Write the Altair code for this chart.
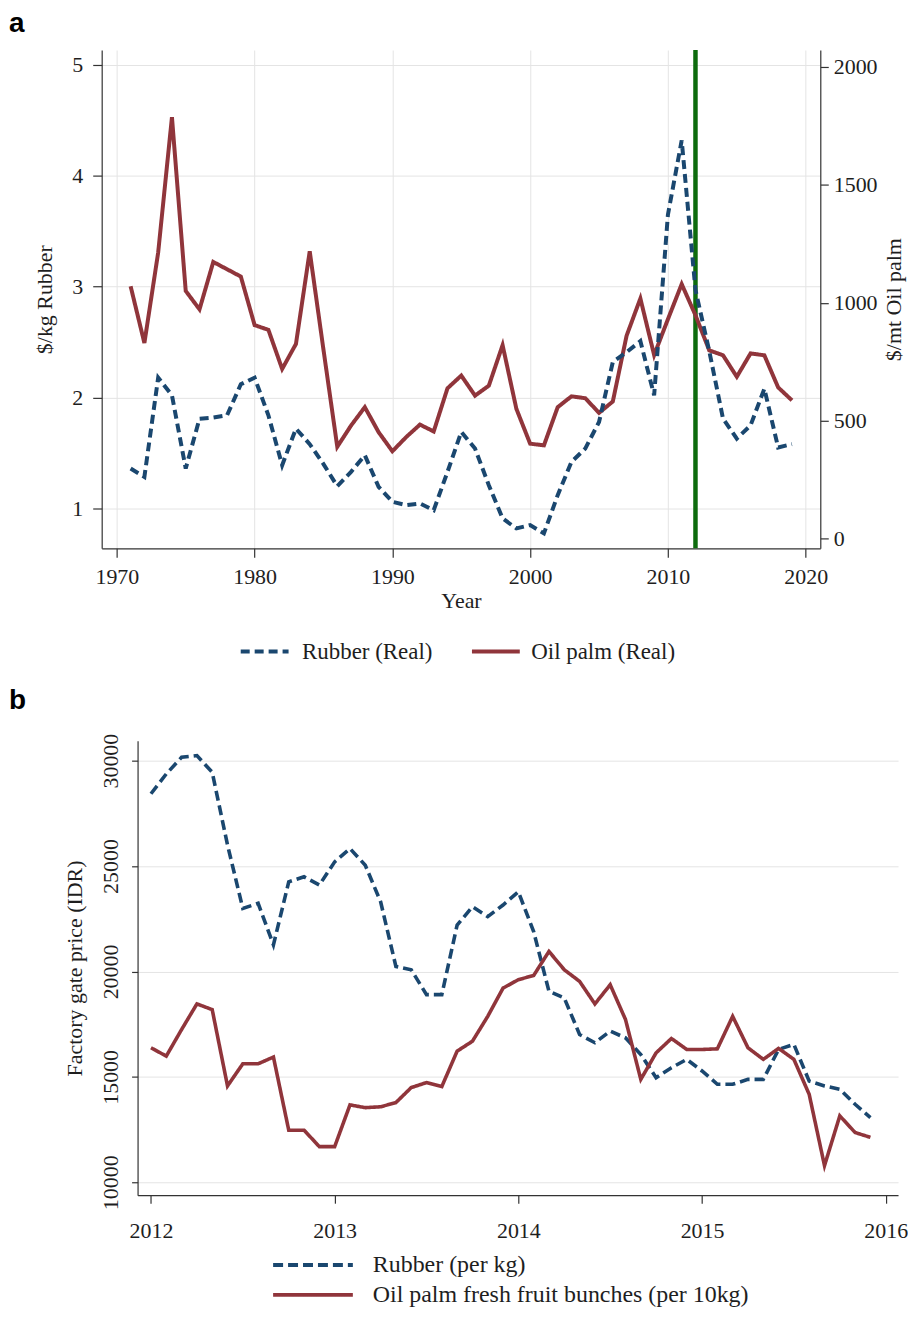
import altair as alt
import pandas as pd

# ---------------- Panel a: annual real prices, 1971-2019 ----------------
years_a = list(range(1971, 2020))
rubber_real = [1.36, 1.285, 2.18, 2.02, 1.36, 1.81, 1.82, 1.84, 2.12, 2.18,
               1.84, 1.39, 1.72, 1.58, 1.40, 1.20, 1.33, 1.48, 1.195, 1.06,
               1.03, 1.045, 0.985, 1.33, 1.69, 1.54, 1.21, 0.91, 0.82, 0.85,
               0.775, 1.12, 1.42, 1.54, 1.78, 2.32, 2.41, 2.51, 2.02, 3.65,
               4.32, 2.97, 2.42, 1.81, 1.63, 1.75, 2.08, 1.55, 1.58]
oilpalm_real = [1070, 829, 1213, 1787, 1050, 972, 1173, 1142, 1111, 905,
                885, 719, 825, 1218, 800, 389, 479, 557, 451, 370,
                430, 483, 454, 637, 691, 606, 648, 820, 550, 402,
                395, 557, 603, 595, 533, 581, 860, 1018, 778, 930,
                1079, 947, 798, 777, 686, 785, 777, 641, 586]
green_year = [2012]

xticks_a = [1970, 1980, 1990, 2000, 2010, 2020]
yticks_rubber = [1, 2, 3, 4, 5]
yticks_oil = [0, 500, 1000, 1500, 2000]

# ---------------- Panel b: monthly factory gate prices, 2012-2015 ----------------
years_b = [2012] * 12 + [2013] * 12 + [2014] * 12 + [2015] * 12
months_b = list(range(1, 13)) * 4
rubber_b = [28430, 29370, 30160, 30240, 29450, 26000, 22990, 23230, 21260, 24250, 24490, 24100,
            25200, 25830, 25040, 23310, 20240, 20080, 18900, 18900, 22200, 23070, 22600, 23150,
            23780, 21890, 19060, 18740, 17010, 16620, 17170, 16850, 16060, 14960, 15430, 15830,
            15280, 14650, 14650, 14880, 14880, 16300, 16540, 14800, 14570, 14410, 13700, 13070]
oilpalm_b = [16380, 15985, 17245, 18460, 18190, 14570, 15620, 15620, 15940, 12470, 12470, 11690,
             11690, 13670, 13540, 13580, 13780, 14490, 14730, 14540, 16220, 16690, 17870, 19210,
             19610, 19810, 20950, 20080, 19530, 18460, 19370, 17720, 14880, 16140, 16820, 16300,
             16300, 16330, 17870, 16380, 15830, 16350, 15830, 14170, 10790, 13150, 12360, 12130]

xticks_b = [2012, 2013, 2014, 2015, 2016]
yticks_b = [10000, 15000, 20000, 25000, 30000]

# ---------------- styling ----------------
SERIF = "Liberation Serif"
SANS = "Liberation Sans"
BLUE = "#1a476f"
RED = "#90353b"
GREEN = "#0d6b0d"
GRID = "#e4e4e4"
INK = "#1e1e1e"
FS = 22

AX = dict(labelFont=SERIF, labelFontSize=FS, labelColor=INK,
          titleFont=SERIF, titleFontSize=FS, titleFontWeight="normal", titleColor=INK,
          domainColor="#333333", tickColor="#333333", domainWidth=1.2, tickWidth=1.2)


def leg(fs, **kw):
    return alt.Legend(orient="none", title=None, padding=0, labelFont=SERIF, labelFontSize=fs,
                      labelColor=INK, symbolSize=256, symbolStrokeWidth=4, labelLimit=700, **kw)


# ---------------- panel a ----------------
da_r = pd.DataFrame({"year": years_a, "value": rubber_real, "sa1": "Rubber (Real)"})
da_o = pd.DataFrame({"year": years_a, "value": oilpalm_real, "sa2": "Oil palm (Real)"})
da_g = pd.DataFrame({"year": green_year})

xa = alt.X("year:Q", scale=alt.Scale(domain=[1968.9, 2021.06], nice=False, zero=False),
           axis=alt.Axis(values=xticks_a, format="d", title="Year", tickSize=9,
                         labelPadding=9, titlePadding=3, grid=True, gridColor=GRID, **AX))

rule_a = alt.Chart(da_g).mark_rule(color=GREEN, strokeWidth=4.5).encode(x=xa)

oil_a = alt.Chart(da_o).mark_line(color=RED, strokeWidth=4).encode(
    x=xa,
    y=alt.Y("value:Q", scale=alt.Scale(domain=[-42, 2072], nice=False, zero=False),
            axis=alt.Axis(orient="right", values=yticks_oil, format="d", title="$/mt Oil palm",
                          titleAngle=270, titleBaseline="top", tickSize=8, labelPadding=5,
                          titlePadding=6, grid=False, **AX)),
    strokeDash=alt.StrokeDash("sa2:N", scale=alt.Scale(domain=["Oil palm (Real)"], range=[[1, 0]]),
                              legend=leg(23, legendX=384, legendY=592, symbolType="M-3,0H3",
                                         symbolStrokeColor=RED, labelOffset=24)),
)

rub_a = alt.Chart(da_r).mark_line(strokeWidth=4, strokeDash=[9, 5]).encode(
    x=xa,
    y=alt.Y("value:Q", scale=alt.Scale(domain=[0.64, 5.135], nice=False, zero=False),
            axis=alt.Axis(orient="left", values=yticks_rubber, title="$/kg Rubber", tickSize=9,
                          labelPadding=10, titlePadding=15, grid=True, gridColor=GRID, **AX)),
    color=alt.Color("sa1:N", scale=alt.Scale(domain=["Rubber (Real)"], range=[BLUE]),
                    legend=leg(23, legendX=152, legendY=592, symbolType="M-3,0H3",
                               symbolDash=[9, 5], labelOffset=26)),
)

letter_a = alt.Chart(pd.DataFrame({"k": [0]})).mark_text(
    font=SANS, fontSize=28, fontWeight="bold", align="left", baseline="top", color="black"
).encode(x=alt.value(-93), y=alt.value(-40), text=alt.value("a"))

panel_a = alt.layer(rule_a, oil_a, rub_a, letter_a).resolve_scale(
    y="independent", color="independent", strokeDash="independent"
).properties(width=721, height=500)

# ---------------- panel b ----------------
t_b = [y + (m - 1) / 12 for y, m in zip(years_b, months_b)]
db_r = pd.DataFrame({"t": t_b, "value": rubber_b, "sb1": "Rubber (per kg)"})
db_o = pd.DataFrame({"t": t_b, "value": oilpalm_b, "sb2": "Oil palm fresh fruit bunches (per 10kg)"})

xb = alt.X("t:Q", scale=alt.Scale(domain=[2011.927, 2016.067], nice=False, zero=False),
           axis=alt.Axis(values=xticks_b, format="d", title=None, grid=False, tickSize=8,
                         labelPadding=17, **AX))
yb_scale = alt.Scale(domain=[9386, 30945], nice=False, zero=False)
yb_axis = alt.Axis(values=yticks_b, format="d", title="Factory gate price (IDR)", labelAngle=270,
                   grid=True, gridColor=GRID, tickSize=6, labelPadding=9, titlePadding=13, **AX)

rub_b = alt.Chart(db_r).mark_line(strokeWidth=3.6, strokeDash=[10, 5]).encode(
    x=xb, y=alt.Y("value:Q", scale=yb_scale, axis=yb_axis),
    color=alt.Color("sb1:N", scale=alt.Scale(domain=["Rubber (per kg)"], range=[BLUE]),
                    legend=leg(24, legendX=164, legendY=514, symbolType="M-5,0H5",
                               symbolDash=[10, 5], labelOffset=48)),
)
oil_b = alt.Chart(db_o).mark_line(color=RED, strokeWidth=3.6).encode(
    x=xb, y=alt.Y("value:Q", scale=yb_scale, axis=yb_axis),
    strokeDash=alt.StrokeDash("sb2:N", scale=alt.Scale(domain=["Oil palm fresh fruit bunches (per 10kg)"],
                                                       range=[[1, 0]]),
                              legend=leg(24, legendX=164, legendY=544, symbolType="M-5,0H5",
                                         symbolStrokeColor=RED, labelOffset=48)),
)

letter_b = alt.Chart(pd.DataFrame({"k": [0]})).mark_text(
    font=SANS, fontSize=28, fontWeight="bold", align="left", baseline="top", color="black"
).encode(x=alt.value(-129), y=alt.value(-54), text=alt.value("b"))

panel_b = alt.layer(rub_b, oil_b, letter_b).resolve_scale(
    color="independent", strokeDash="independent"
).properties(width=763, height=456)


def spacer():
    return alt.Chart(pd.DataFrame({"k": [0]})).mark_rect(opacity=0, strokeWidth=0).encode(
        x=alt.value(0), x2=alt.value(1), y=alt.value(0), y2=alt.value(1)
    ).properties(width=1, height=1)


row_a = alt.hconcat(spacer(), panel_a, spacing=0)
row_b = alt.hconcat(spacer(), panel_b, spacing=0)

chart = alt.vconcat(row_a, row_b, spacing=23).properties(
    padding=0, background="white"
).configure_view(stroke=None)

chart.save("out.html", embed_options={"renderer": "svg", "actions": False})
